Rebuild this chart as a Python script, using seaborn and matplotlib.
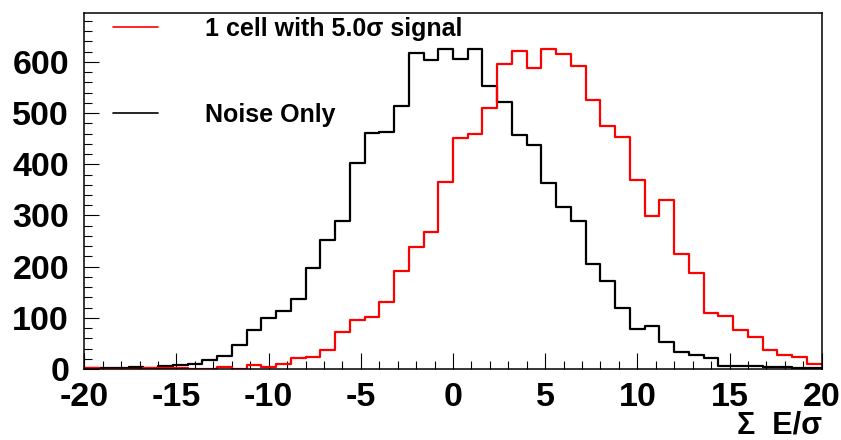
import numpy as np
import pandas as pd
import matplotlib
matplotlib.use("Agg")
import matplotlib.pyplot as plt
from matplotlib.ticker import MultipleLocator
from matplotlib.lines import Line2D
import seaborn as sns

# ---- data (50 bins of width 0.8 between -20 and 20) ----
x_range = [-20, 20]
n_bins = 50
noise_counts = [2, 1, 1, 4, 2, 6, 8, 10, 18, 25,
                47, 77, 100, 113, 136, 197, 253, 290, 402, 462,
                463, 514, 618, 603, 625, 605, 625, 553, 521, 458,
                437, 363, 317, 290, 206, 171, 120, 79, 84, 53,
                33, 28, 21, 6, 5, 5, 3, 3, 2, 1]
signal_counts = [1, 0, 0, 0, 1, 1, 2, 0, 0, 3,
                 0, 7, 4, 10, 21, 23, 37, 73, 96, 102,
                 131, 191, 239, 267, 365, 451, 460, 509, 595, 621,
                 588, 625, 616, 592, 525, 475, 454, 370, 299, 330,
                 224, 187, 109, 103, 76, 62, 38, 27, 24, 10]
labels = ["1 cell with 5.0\u03c3 signal", "Noise Only"]
colors = ["#ff0000", "#000000"]
x_ticks = [-20, -15, -10, -5, 0, 5, 10, 15, 20]
y_ticks = [0, 100, 200, 300, 400, 500, 600]
x_label = "\u03a3  E/\u03c3"

sns.set_style("ticks")
plt.rcParams['font.family'] = ['Liberation Sans', 'DejaVu Sans']
plt.rcParams['font.weight'] = 'bold'
plt.rcParams['axes.unicode_minus'] = False
for k in ['text.color', 'axes.labelcolor', 'xtick.color', 'ytick.color', 'axes.edgecolor']:
    plt.rcParams[k] = 'black'

edges = np.linspace(x_range[0], x_range[1], n_bins + 1)
centers = 0.5 * (edges[:-1] + edges[1:])

df = pd.concat([
    pd.DataFrame({"x": centers, "w": noise_counts, "series": labels[1]}),
    pd.DataFrame({"x": centers, "w": signal_counts, "series": labels[0]}),
], ignore_index=True)

fig = plt.figure(figsize=(8.41, 4.40), dpi=100)
ax = fig.add_axes([84.3 / 841, 71 / 440, (821.7 - 84.3) / 841, (369 - 13.3) / 440])

for lab, col in [(labels[1], colors[1]), (labels[0], colors[0])]:
    sub = df[df.series == lab]
    sns.histplot(data=sub, x="x", weights="w", bins=n_bins, binrange=tuple(x_range),
                 element="step", fill=False, color=col, linewidth=1.6, ax=ax)

ax.set_xlim(x_range)
ax.set_ylim(0, 695)
ax.set_xticks(x_ticks)
ax.set_yticks(y_ticks)
ax.xaxis.set_minor_locator(MultipleLocator(1))
ax.yaxis.set_minor_locator(MultipleLocator(20))
ax.tick_params(axis='x', which='major', direction='in', length=11.5, width=0.8,
               labelsize=24.5, pad=9, top=False, colors='black')
ax.tick_params(axis='x', which='minor', direction='in', length=5.8, width=0.8, top=False,
               colors='black')
ax.tick_params(axis='y', which='major', direction='in', length=10.8, width=0.8,
               labelsize=24.5, pad=11, right=False, colors='black')
ax.tick_params(axis='y', which='minor', direction='in', length=5.4, width=0.8, right=False,
               colors='black')
for lbl in ax.get_xticklabels() + ax.get_yticklabels():
    lbl.set_fontweight('bold')
for sp in ax.spines.values():
    sp.set_visible(True)
    sp.set_linewidth(1.1)
    sp.set_color('black')
ax.set_ylabel("")
ax.set_xlabel("")
fig.text(821.7 / 841, 1 - 425 / 440, x_label, ha='right', va='center',
         fontsize=22, fontweight='bold', color='black')

leg_handles = [Line2D([], [], color=colors[0], linewidth=1.2),
               Line2D([], [], color=colors[1], linewidth=1.2)]
leg = ax.legend(leg_handles, labels, loc='upper left',
                bbox_to_anchor=(112.7 / 841, 1 - 17 / 440), bbox_transform=fig.transFigure,
                frameon=False, borderpad=0, borderaxespad=0, handlelength=1.8,
                handletextpad=1.9, labelspacing=2.47,
                prop={'family': 'Liberation Sans', 'weight': 'bold', 'size': 18})
for t in leg.get_texts():
    t.set_color('black')

fig.savefig("out.png", dpi=100)
